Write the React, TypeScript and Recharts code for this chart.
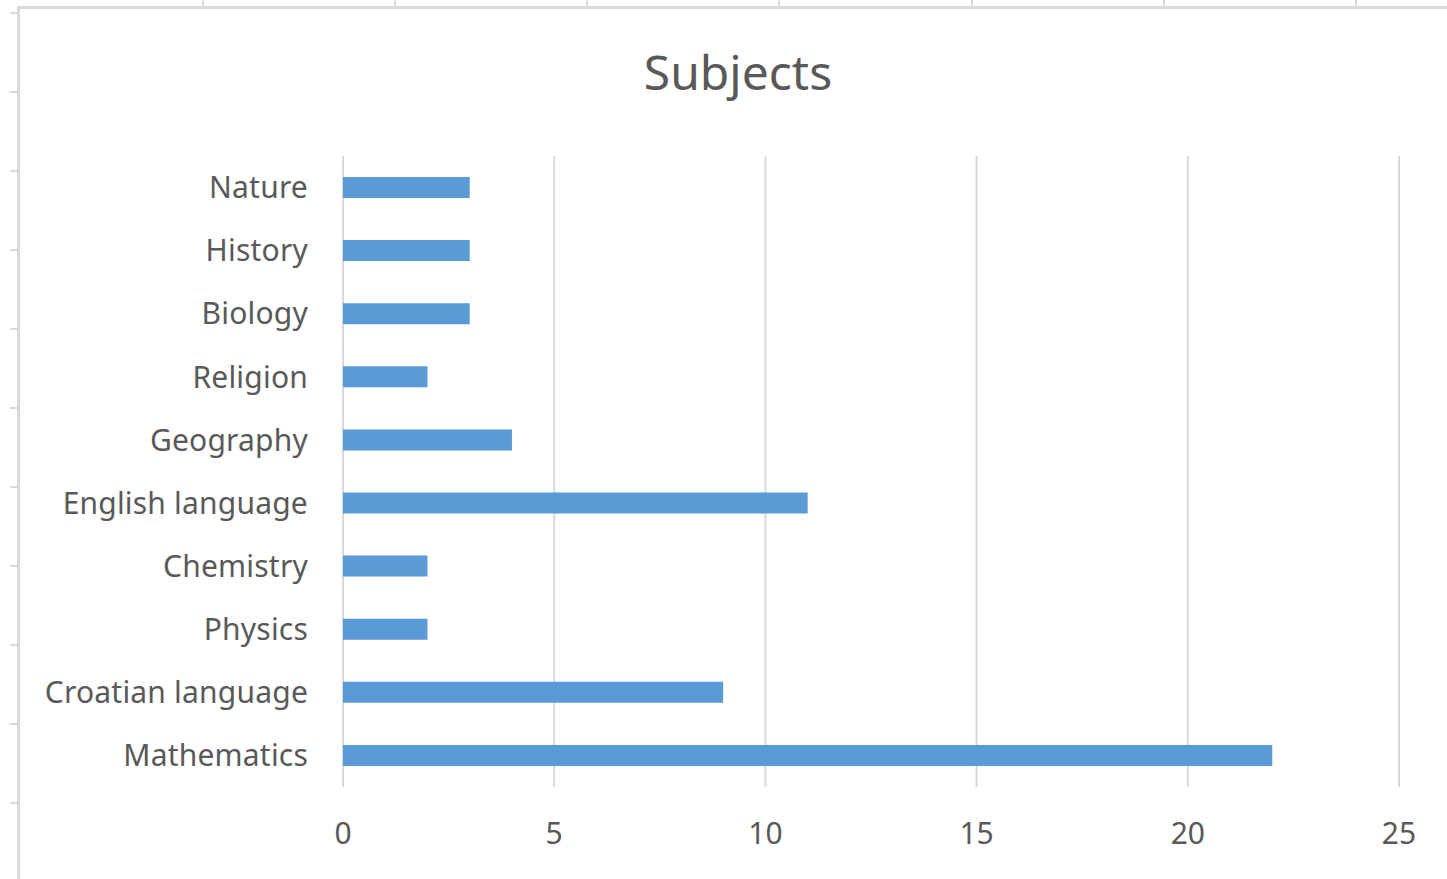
import React from "react";
import { BarChart, Bar, XAxis, YAxis, CartesianGrid } from "recharts";

const categories = [
  "Mathematics",
  "Croatian language",
  "Physics",
  "Chemistry",
  "English language",
  "Geography",
  "Religion",
  "Biology",
  "History",
  "Nature",
];
const counts = [22, 9, 2, 2, 11, 4, 2, 3, 3, 3];
const xTicks = [0, 5, 10, 15, 20, 25];
const title = "Subjects";

const sheetColumnLines = [203, 395, 587, 779, 972, 1164, 1356];
const sheetRowLines = [13, 92, 171, 250, 329, 408, 487, 566, 645, 724, 803];

const data = categories.map((name, i) => ({ name, value: counts[i] }));

const FONT = "'Noto Sans', 'Open Sans', sans-serif";
const TEXT = "#595959";
const GRID = "#d9d9d9";

export default function App() {
  return (
    <div
      style={{
        position: "absolute",
        left: 0,
        top: 0,
        width: 1447,
        height: 879,
        overflow: "hidden",
        background: "#ffffff",
        fontFamily: FONT,
      }}
    >
      {sheetColumnLines.map((x) => (
        <div
          key={"c" + x}
          style={{ position: "absolute", left: x - 1, top: 0, width: 2, height: 7, background: GRID }}
        />
      ))}
      {sheetRowLines.map((y) => (
        <div
          key={"r" + y}
          style={{ position: "absolute", left: 10, top: y - 1, width: 8, height: 2, background: GRID }}
        />
      ))}
      <div
        style={{
          position: "absolute",
          left: 17,
          top: 6,
          width: 1500,
          height: 1000,
          borderLeft: `3px solid ${GRID}`,
          borderTop: `3px solid ${GRID}`,
          boxSizing: "border-box",
        }}
      />
      <div
        style={{
          position: "absolute",
          left: 538,
          width: 400,
          top: 38,
          textAlign: "center",
          fontSize: 48,
          lineHeight: "68px",
          color: TEXT,
          fontFamily: FONT,
        }}
      >
        {title}
      </div>
      <div style={{ position: "absolute", left: 0, top: 0 }}>
        <BarChart
          width={1447}
          height={879}
          data={data}
          layout="vertical"
          margin={{ top: 156, right: 48, bottom: 32, left: 13 }}
          barCategoryGap={0}
        >
          <CartesianGrid horizontal={false} stroke={GRID} strokeWidth={2} />
          <XAxis
            type="number"
            domain={[0, 25]}
            ticks={xTicks}
            axisLine={false}
            tickLine={false}
            height={60}
            tickMargin={30}
            tick={{ fill: TEXT, fontSize: 30, fontFamily: FONT }}
            interval={0}
          />
          <YAxis
            type="category"
            dataKey="name"
            reversed
            width={330}
            axisLine={false}
            tickLine={false}
            tickMargin={29}
            interval={0}
            tick={{ fill: TEXT, fontSize: 30, fontFamily: FONT, letterSpacing: 0.2 }}
          />
          <Bar dataKey="value" fill="#5b9bd5" barSize={21} isAnimationActive={false} />
        </BarChart>
      </div>
    </div>
  );
}
